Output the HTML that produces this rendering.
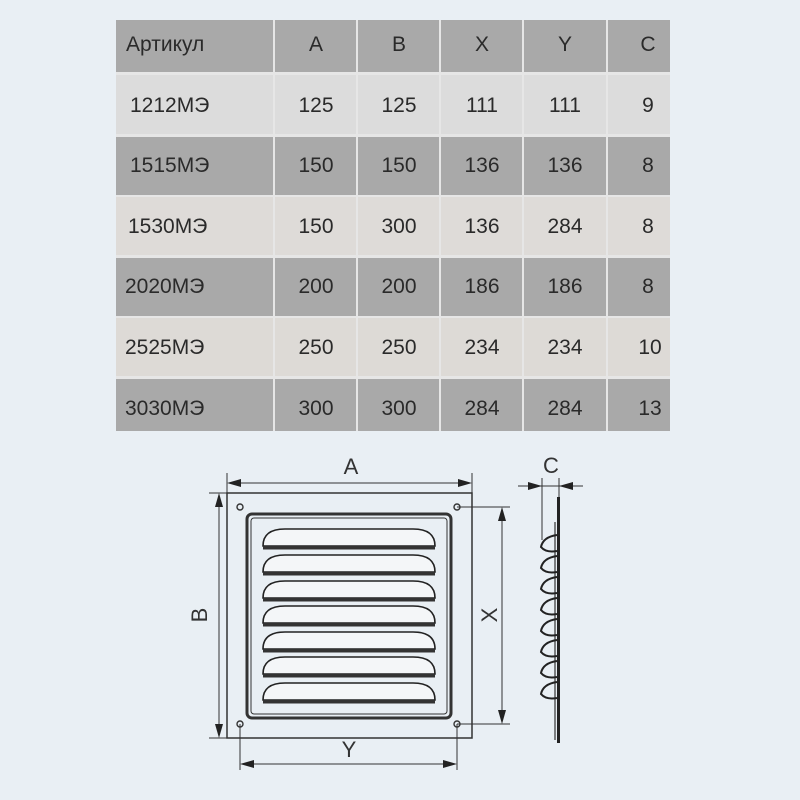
<!DOCTYPE html>
<html><head><meta charset="utf-8"><style>
html,body{margin:0;padding:0;background:#e9eff4;}
body{width:800px;height:800px;position:relative;overflow:hidden;font-family:"Liberation Sans","DejaVu Sans",sans-serif;}
</style></head><body>
<svg width="800" height="800" viewBox="0 0 800 800" xmlns="http://www.w3.org/2000/svg" style="position:absolute;left:0;top:0">
<rect width="800" height="800" fill="#e9eff4"/>
<rect x="116" y="20" width="554" height="411" fill="#e6e6e6"/>
<g>
<rect x="116" y="20" width="554" height="52" fill="#a9a9a9"/>
<rect x="116" y="75" width="554" height="59" fill="#dcdcdc"/>
<rect x="116" y="137" width="554" height="58" fill="#a9a9a9"/>
<rect x="116" y="197" width="554" height="58" fill="#dedbd8"/>
<rect x="116" y="258" width="554" height="58" fill="#a9a9a9"/>
<rect x="116" y="318" width="554" height="58" fill="#dddad6"/>
<rect x="116" y="379" width="554" height="52" fill="#a9a9a9"/>
</g>
<g fill="#e6e6e6">
<rect x="273" y="20" width="2" height="411"/>
<rect x="356" y="20" width="2" height="411"/>
<rect x="439" y="20" width="2" height="411"/>
<rect x="522" y="20" width="2" height="411"/>
<rect x="606" y="20" width="2" height="411"/>
</g>
<g font-size="21" fill="#2a2a2a" font-family="Liberation Sans, DejaVu Sans, sans-serif">
<text x="126" y="51">Артикул</text>
<g text-anchor="middle">
<text x="316" y="51">A</text><text x="399" y="51">B</text><text x="482" y="51">X</text><text x="565" y="51">Y</text><text x="648" y="51">C</text>
</g>
<text x="130" y="112">1212МЭ</text>
<text x="130" y="172">1515МЭ</text>
<text x="128" y="233">1530МЭ</text>
<text x="125" y="293">2020МЭ</text>
<text x="125" y="354">2525МЭ</text>
<text x="125" y="415">3030МЭ</text>
<g text-anchor="middle">
<text x="316" y="112">125</text><text x="399" y="112">125</text><text x="482" y="112">111</text><text x="565" y="112">111</text><text x="648" y="112">9</text>
<text x="316" y="172">150</text><text x="399" y="172">150</text><text x="482" y="172">136</text><text x="565" y="172">136</text><text x="648" y="172">8</text>
<text x="316" y="233">150</text><text x="399" y="233">300</text><text x="482" y="233">136</text><text x="565" y="233">284</text><text x="648" y="233">8</text>
<text x="316" y="293">200</text><text x="399" y="293">200</text><text x="482" y="293">186</text><text x="565" y="293">186</text><text x="648" y="293">8</text>
<text x="316" y="354">250</text><text x="399" y="354">250</text><text x="482" y="354">234</text><text x="565" y="354">234</text><text x="650" y="354">10</text>
<text x="316" y="415">300</text><text x="399" y="415">300</text><text x="482" y="415">284</text><text x="565" y="415">284</text><text x="650" y="415">13</text>
</g>
</g>
<g stroke="#333" fill="none">
<rect x="227" y="493" width="245" height="245" stroke-width="1.5"/>
<rect x="247" y="514" width="204" height="204" rx="5" stroke-width="3"/>
<rect x="251" y="518" width="196" height="196" rx="3" stroke-width="1"/>
<g stroke-width="1.4">
<circle cx="240" cy="507" r="3"/><circle cx="457" cy="507" r="3"/><circle cx="240" cy="724" r="3"/><circle cx="457" cy="724" r="3"/>
</g>
</g>
<g fill="#f4f6f8" stroke="#222" stroke-width="1.6">
<path d="M263 546 Q263 529 285 529 L413 529 Q435 529 435 546 Z"/>
<path d="M263 572 Q263 555 285 555 L413 555 Q435 555 435 572 Z"/>
<path d="M263 598 Q263 581 285 581 L413 581 Q435 581 435 598 Z"/>
<path d="M263 623 Q263 606 285 606 L413 606 Q435 606 435 623 Z"/>
<path d="M263 649 Q263 632 285 632 L413 632 Q435 632 435 649 Z"/>
<path d="M263 674 Q263 657 285 657 L413 657 Q435 657 435 674 Z"/>
<path d="M263 700 Q263 683 285 683 L413 683 Q435 683 435 700 Z"/>
</g>
<g fill="#333">
<rect x="263" y="546" width="172" height="3.5"/><rect x="263" y="572" width="172" height="3.5"/><rect x="263" y="598" width="172" height="3.5"/>
<rect x="263" y="623" width="172" height="3.5"/><rect x="263" y="649" width="172" height="3.5"/><rect x="263" y="674" width="172" height="3.5"/><rect x="263" y="700" width="172" height="3.5"/>
</g>
<g stroke="#333" stroke-width="1" fill="none">
<line x1="227" y1="473" x2="227" y2="493"/><line x1="472" y1="473" x2="472" y2="493"/>
<line x1="233" y1="483" x2="466" y2="483"/>
<line x1="209" y1="493" x2="227" y2="493"/><line x1="209" y1="738" x2="227" y2="738"/>
<line x1="219" y1="499" x2="219" y2="732"/>
<line x1="457" y1="507" x2="510" y2="507"/><line x1="457" y1="724" x2="510" y2="724"/>
<line x1="502" y1="513" x2="502" y2="718"/>
<line x1="240" y1="724" x2="240" y2="770"/><line x1="457" y1="724" x2="457" y2="770"/>
<line x1="246" y1="764" x2="451" y2="764"/>
<line x1="542" y1="478" x2="542" y2="540"/><line x1="559" y1="478" x2="559" y2="497"/>
<line x1="518" y1="486" x2="583" y2="486"/>
</g>
<g fill="#222">
<path d="M227 483 L241 479 L241 487 Z"/><path d="M472 483 L458 479 L458 487 Z"/>
<path d="M219 493 L215 507 L223 507 Z"/><path d="M219 738 L215 724 L223 724 Z"/>
<path d="M502 507 L498 521 L506 521 Z"/><path d="M502 724 L498 710 L506 710 Z"/>
<path d="M240 764 L254 760 L254 768 Z"/><path d="M457 764 L443 760 L443 768 Z"/>
<path d="M542 486 L528 482 L528 490 Z"/><path d="M559 486 L573 482 L573 490 Z"/>
</g>
<rect x="557" y="497" width="3" height="246" fill="#222"/>
<path d="M555 522 L555 740" stroke="#333" stroke-width="1.2" fill="none"/>
<g stroke="#222" stroke-width="2" fill="none">
<path d="M557 535 Q543 537 541 547 Q546 553 557 551"/>
<path d="M557 556 Q543 558 541 568 Q546 574 557 572"/>
<path d="M557 577 Q543 579 541 589 Q546 595 557 593"/>
<path d="M557 598 Q543 600 541 610 Q546 616 557 614"/>
<path d="M557 619 Q543 621 541 631 Q546 637 557 635"/>
<path d="M557 640 Q543 642 541 652 Q546 658 557 656"/>
<path d="M557 661 Q543 663 541 673 Q546 679 557 677"/>
<path d="M557 682 Q543 684 541 694 Q546 700 557 698"/>
</g>
<g font-size="22" fill="#333" font-family="Liberation Sans, DejaVu Sans, sans-serif" text-anchor="middle">
<text x="351" y="474">A</text>
<text x="349" y="757">Y</text>
<text x="551" y="473">C</text>
<text transform="translate(199,615) rotate(-90)" y="8">B</text>
<text transform="translate(489,615) rotate(-90)" y="8">X</text>
</g>
</svg>
</body></html>
